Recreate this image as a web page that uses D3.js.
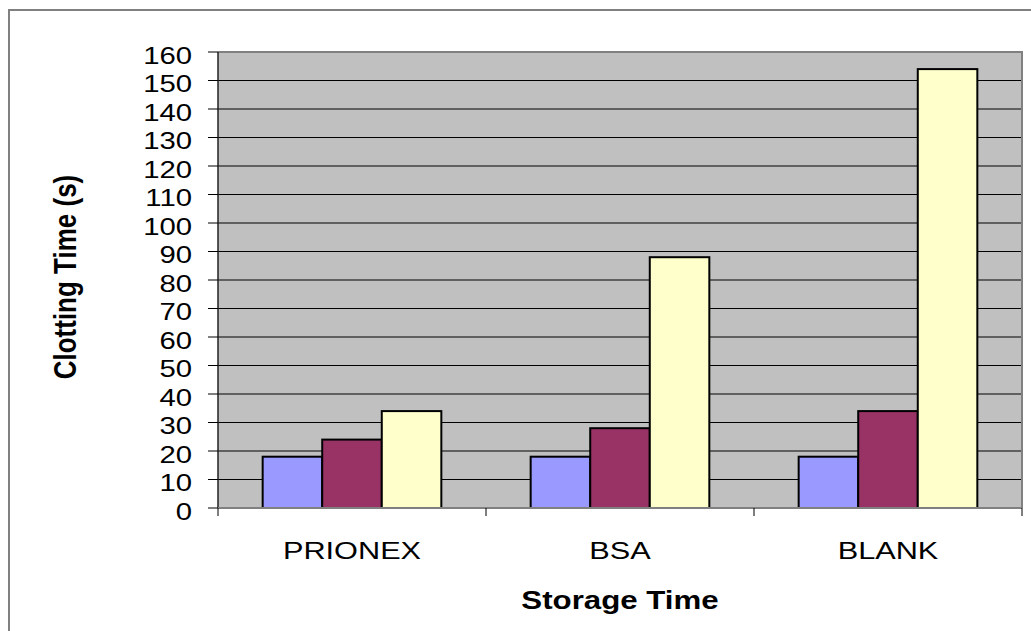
<!DOCTYPE html>
<html>
<head>
<meta charset="utf-8">
<script src="https://cdn.jsdelivr.net/npm/d3@7"></script>
<style>
  html, body { margin: 0; padding: 0; background: #fff; }
  svg { display: block; }
  text { font-family: "Liberation Sans", Arial, sans-serif; fill: #000; }
</style>
</head>
<body>
<svg id="chart" width="1031" height="631"></svg>
<script>
// Clotting time per sample, three storage-time groups
const categories = ["PRIONEX", "BSA", "BLANK"];
const series1 = [18, 18, 18];
const series2 = [24, 28, 34];
const series3 = [34, 88, 154];
const seriesColors = ["#9999FF", "#993366", "#FFFFCC"];
const yTickValues = [0, 10, 20, 30, 40, 50, 60, 70, 80, 90, 100, 110, 120, 130, 140, 150, 160];
const yTitle = "Clotting Time (s)";
const xTitle = "Storage Time";

const allSeries = [series1, series2, series3];
const seriesKeys = allSeries.map((_, i) => i);

const svg = d3.select("#chart");
const plot = { left: 218, right: 1022, top: 52, bottom: 508 };

// outer frame
svg.append("path")
  .attr("d", "M9,640 L9,10 L1040,10")
  .attr("fill", "none").attr("stroke", "#808080").attr("stroke-width", 2);

const y = d3.scaleLinear().domain([0, 160]).range([plot.bottom, plot.top]);
const x0 = d3.scaleBand().domain(categories).range([plot.left, plot.right]).paddingInner(0).paddingOuter(0);
const x1 = d3.scaleBand().domain(seriesKeys).range([0, x0.bandwidth()]).paddingInner(0).paddingOuter(0.75);

// plot background
svg.append("rect")
  .attr("x", plot.left).attr("y", plot.top)
  .attr("width", plot.right - plot.left).attr("height", plot.bottom - plot.top)
  .attr("fill", "#C0C0C0");

// gridlines
svg.append("g").selectAll("line")
  .data(yTickValues.filter(v => v > 0 && v < 160))
  .join("line")
  .attr("x1", plot.left).attr("x2", plot.right)
  .attr("y1", d => y(d)).attr("y2", d => y(d))
  .attr("stroke", "#000").attr("stroke-width", 1);

// plot border (top and right)
svg.append("path")
  .attr("d", `M${plot.left},${plot.top} L${plot.right},${plot.top} L${plot.right},${plot.bottom}`)
  .attr("fill", "none").attr("stroke", "#808080").attr("stroke-width", 2);

// bars
const groups = svg.append("g").selectAll("g")
  .data(categories)
  .join("g")
  .attr("transform", d => `translate(${x0(d)},0)`);

groups.selectAll("rect")
  .data((d, ci) => seriesKeys.map(k => ({ k, v: allSeries[k][ci] })))
  .join("rect")
  .attr("x", d => x1(d.k))
  .attr("width", x1.bandwidth())
  .attr("y", d => y(d.v))
  .attr("height", d => y(0) - y(d.v))
  .attr("fill", d => seriesColors[d.k])
  .attr("stroke", "#000").attr("stroke-width", 2);

// y axis
const yAxis = svg.append("g");
yAxis.append("line")
  .attr("x1", plot.left).attr("x2", plot.left)
  .attr("y1", plot.top).attr("y2", plot.bottom)
  .attr("stroke", "#222").attr("stroke-width", 1.5);
yAxis.selectAll("line.tick")
  .data(yTickValues)
  .join("line").attr("class", "tick")
  .attr("x1", plot.left - 10).attr("x2", plot.left)
  .attr("y1", d => y(d)).attr("y2", d => y(d))
  .attr("stroke", "#000").attr("stroke-width", 1);
yAxis.selectAll("text")
  .data(yTickValues)
  .join("text")
  .attr("transform", d => `translate(192,${y(d) + 11.5}) scale(1.22,1)`)
  .attr("text-anchor", "end")
  .attr("font-size", 24)
  .text(d => d);

// x axis
const xAxis = svg.append("g");
xAxis.append("line")
  .attr("x1", plot.left).attr("x2", plot.right)
  .attr("y1", plot.bottom).attr("y2", plot.bottom)
  .attr("stroke", "#808080").attr("stroke-width", 2);
const boundaries = categories.map(c => x0(c)).concat([x0(categories[categories.length - 1]) + x0.bandwidth()]);
xAxis.selectAll("line.tick")
  .data(boundaries)
  .join("line").attr("class", "tick")
  .attr("x1", d => d).attr("x2", d => d)
  .attr("y1", plot.bottom).attr("y2", plot.bottom + 8)
  .attr("stroke", "#000").attr("stroke-width", 1);
xAxis.selectAll("text")
  .data(categories)
  .join("text")
  .attr("transform", d => `translate(${x0(d) + x0.bandwidth() / 2},559) scale(1.28,1)`)
  .attr("text-anchor", "middle")
  .attr("font-size", 24)
  .text(d => d);

// axis titles
svg.append("text")
  .attr("transform", `translate(${(plot.left + plot.right) / 2},609) scale(1.25,1)`)
  .attr("text-anchor", "middle")
  .attr("font-size", 25).attr("font-weight", "bold")
  .text(xTitle);

svg.append("text")
  .attr("transform", `translate(76,277) scale(1.2,1) rotate(-90)`)
  .attr("text-anchor", "middle")
  .attr("font-size", 26).attr("font-weight", "bold")
  .text(yTitle);
</script>
</body>
</html>
